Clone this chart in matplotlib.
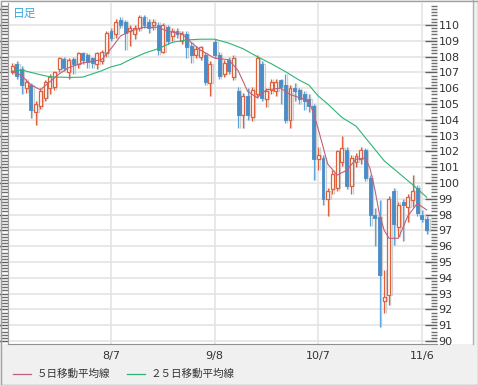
import numpy as np
import matplotlib.pyplot as plt
from matplotlib.patches import Rectangle
from matplotlib.lines import Line2D
from matplotlib.ticker import MultipleLocator

plt.rcParams['font.family'] = ['DejaVu Sans']

# daily candles (USD/JPY style)
opens = [107.0, 107.5, 107.2, 106.0, 106.2, 104.5, 104.9, 105.4, 106.0, 106.1,
         107.2, 107.85, 107.0, 107.85, 107.5, 108.2, 108.1, 107.9, 107.5, 107.7,
         108.2, 109.6, 109.4, 110.3, 110.2, 109.6, 109.4, 109.8, 110.5, 110.2,
         110.0, 110.0, 108.3, 109.9, 109.3, 109.6, 109.0, 109.4, 108.7, 108.1,
         108.0, 108.1, 106.3, 108.9, 108.1, 106.9, 107.8, 106.7, 105.8, 104.3,
         105.5, 104.2, 105.6, 107.5, 105.3, 105.9, 105.8, 106.5, 106.2, 104.0,
         106.0, 105.9, 105.6, 105.3, 104.9, 101.5, 101.6, 99.0, 99.6, 99.7,
         101.3, 102.1, 99.8, 101.3, 101.5, 102.1, 100.3, 98.0, 97.85, 92.5,
         92.9, 99.5, 97.2, 98.8, 98.5, 98.9, 99.7, 98.0, 97.7]
highs = [107.6, 107.7, 107.4, 106.6, 106.3, 105.2, 106.0, 106.5, 106.9, 107.1,
         108.0, 108.0, 107.9, 108.0, 108.3, 108.3, 108.2, 108.0, 108.3, 108.4,
         109.6, 109.8, 110.4, 110.5, 110.3, 110.0, 110.0, 110.65, 110.6, 110.4,
         110.4, 110.2, 110.1, 110.0, 109.8, 109.8, 109.6, 109.6, 108.9, 108.7,
         108.7, 108.3, 107.7, 109.1, 108.3, 107.8, 108.0, 108.1, 106.1, 105.7,
         106.0, 106.1, 108.1, 107.7, 106.0, 106.6, 106.6, 106.6, 106.9, 106.2,
         106.3, 106.0, 105.8, 105.6, 105.0, 102.3, 101.8, 99.7, 100.8, 102.1,
         103.0, 102.3, 101.8, 101.9, 102.3, 102.2, 100.5, 98.4, 98.9, 94.5,
         99.2, 99.7, 98.8, 99.0, 99.3, 100.5, 99.9, 98.3, 97.9]
lows = [106.9, 106.6, 105.6, 105.7, 104.1, 103.7, 104.7, 105.2, 105.6, 105.9,
        107.0, 107.1, 106.6, 106.9, 107.3, 107.5, 107.3, 107.3, 107.2, 107.5,
        108.0, 109.0, 109.2, 109.8, 108.4, 108.7, 109.1, 109.6, 109.8, 109.5,
        109.7, 108.1, 108.2, 108.8, 109.0, 109.2, 108.8, 107.9, 107.6, 107.9,
        107.8, 106.2, 105.5, 107.9, 106.6, 106.7, 106.9, 106.5, 103.5, 103.5,
        104.0, 103.9, 105.4, 105.2, 104.8, 105.6, 105.5, 105.0, 103.8, 103.5,
        105.2, 105.0, 104.6, 104.5, 100.2, 100.8, 98.6, 97.9, 99.3, 99.5,
        101.1, 99.6, 99.3, 101.0, 101.2, 100.1, 97.3, 96.0, 90.9, 91.8,
        92.3, 96.1, 96.6, 96.3, 97.5, 98.5, 97.9, 97.5, 96.8]
closes = [107.4, 106.8, 106.2, 106.4, 104.6, 105.0, 105.8, 106.4, 106.7, 107.0,
          107.9, 107.3, 107.8, 107.5, 108.2, 107.8, 107.65, 107.6, 108.2, 108.3,
          109.5, 109.2, 110.2, 110.0, 109.5, 109.8, 109.8, 110.5, 110.0, 109.8,
          110.2, 108.4, 110.0, 109.0, 109.6, 109.4, 109.4, 108.6, 108.1, 108.5,
          108.6, 106.4, 107.5, 108.1, 106.8, 107.6, 107.1, 107.9, 104.3, 105.5,
          104.3, 105.9, 107.9, 105.4, 105.8, 106.4, 106.4, 106.1, 104.0, 106.0,
          105.8, 105.3, 105.2, 104.9, 101.5, 101.8, 99.0, 99.5, 100.6, 102.0,
          102.2, 99.8, 101.6, 101.7, 102.1, 100.3, 98.0, 97.8, 94.2, 92.8,
          99.0, 97.4, 98.6, 98.6, 99.1, 99.5, 98.1, 97.7, 97.0]

# moving averages (bar index, value)
ma5_idx = [0, 2, 4, 6, 8, 10, 12, 15, 19, 21, 23, 25, 28, 31, 33, 36, 38, 40, 43, 46,
           48, 50, 52, 54, 57, 59, 61, 63, 64, 65, 66, 67, 69, 71, 73, 75, 76, 77, 78,
           79, 80, 82, 84, 86, 88]
ma5_val = [107.1, 106.8, 106.2, 105.9, 106.4, 106.9, 107.3, 107.6, 107.8, 108.5,
           109.3, 109.6, 109.85, 109.85, 109.6, 109.45, 108.9, 108.4, 107.9, 107.8,
           107.1, 105.8, 105.4, 105.9, 106.0, 105.6, 105.4, 105.2, 104.4, 103.4,
           102.3, 101.2, 100.5, 100.8, 101.5, 101.6, 100.9, 99.6, 98.0,
           97.0, 96.5, 96.5, 97.9, 98.7, 98.3]
ma25_idx = [0, 2, 4, 6, 8, 12, 15, 17, 19, 21, 23, 25, 28, 31, 34, 37, 40, 43, 46, 49,
            52, 55, 58, 61, 63, 65, 67, 70, 73, 76, 79, 82, 85, 88]
ma25_val = [107.05, 107.15, 107.0, 106.85, 106.72, 106.68, 106.7, 106.9, 107.1, 107.35,
            107.5, 107.8, 108.2, 108.5, 108.9, 109.05, 109.1, 109.1, 108.85, 108.5,
            108.0, 107.55, 107.05, 106.5, 106.2, 105.5, 105.0, 104.15, 103.6, 102.5,
            101.4, 100.65, 99.9, 99.1]

date_idx = [21, 43, 65, 87]
date_lbl = ['8/7', '9/8', '10/7', '11/6']
price_ticks = list(range(90, 111))

W, H = 478, 385
fig = plt.figure(figsize=(W / 100, H / 100), dpi=100, facecolor='#f0f0f0')


def box(x0, y0, x1, y1):
    # pixel box (top-left origin) -> figure fraction rect
    return [x0 / W, 1 - y1 / H, (x1 - x0) / W, (y1 - y0) / H]


# white panel behind the chart and the price labels
fig.patches.append(Rectangle((1 / W, 1 - 344 / H), 472 / W, 343 / H,
                             transform=fig.transFigure, facecolor='white',
                             edgecolor='none', zorder=-5))

ax = fig.add_axes(box(8, 3, 437, 344))
ax.set_zorder(2)
ax.set_facecolor('white')

n = len(opens)
x = np.arange(n)
o = np.array(opens); c = np.array(closes)
hi = np.array(highs); lo = np.array(lows)
up = c >= o
up_col = '#e0603c'
dn_col = '#4a8cc8'
wick_dn = '#5aa6dc'
shadow = '#cfcfcf'
bw = 0.62

body_lo = np.minimum(o, c)
body_h = np.maximum(np.abs(c - o), 0.06)

# light drop shadow to the right of each candle
ax.vlines(x + 0.3, lo, hi, color=shadow, lw=1.0, zorder=2)
ax.bar(x + 0.3, body_h, bw, bottom=body_lo, color='none', edgecolor=shadow, lw=0.9, zorder=2)

ax.vlines(x[up], lo[up], hi[up], color=up_col, lw=0.9, zorder=3)
ax.vlines(x[~up], lo[~up], hi[~up], color=wick_dn, lw=0.9, zorder=3)
ax.bar(x[up], body_h[up], bw, bottom=body_lo[up], color='white', edgecolor=up_col, lw=0.9, zorder=4)
ax.bar(x[~up], body_h[~up], bw, bottom=body_lo[~up], color=dn_col, edgecolor=dn_col, lw=0.6, zorder=4)

ax.plot(ma25_idx, ma25_val, color='#2cb476', lw=0.8, zorder=5)
ax.plot(ma5_idx, ma5_val, color='#c0607c', lw=0.8, zorder=5)

ax.set_xlim(-0.87, 90.2)
ax.set_ylim(89.81, 111.39)

ax.set_xticks(date_idx)
ax.set_xticklabels(date_lbl)
ax.tick_params(axis='x', length=0, pad=5, labelsize=8, labelcolor='#333333')

ax.yaxis.tick_right()
ax.set_yticks(price_ticks)
ax.set_yticklabels([str(t) for t in price_ticks])
ax.yaxis.set_minor_locator(MultipleLocator(0.2))
ax.tick_params(axis='y', which='major', direction='in', length=9, width=1,
               color='#606060', pad=1, labelsize=8, labelcolor='#333333')
ax.tick_params(axis='y', which='minor', direction='in', length=4, width=1, color='#707070')

# left-hand tick comb
lax = ax.secondary_yaxis('left')
lax.set_yticks(list(range(90, 112)))
lax.set_yticklabels([])
lax.yaxis.set_minor_locator(MultipleLocator(0.2))
lax.tick_params(which='major', direction='out', length=8, width=1, color='#606060')
lax.tick_params(which='minor', direction='out', length=5, width=1, color='#707070')
lax.spines['left'].set_color('#a0a0a0')

ax.grid(True, which='major', color='#e4e4e4', lw=1.2, zorder=0)
ax.set_axisbelow(True)
for s in ['top', 'right']:
    ax.spines[s].set_visible(False)
ax.spines['left'].set_color('#a0a0a0')
ax.spines['bottom'].set_color('#909090')

ax.text(5 / 429, 1 - 10 / 341, '日足', transform=ax.transAxes, fontsize=8.5,
        color='#3aa8e0', va='center', ha='left',
        family=['Noto Sans CJK JP', 'DejaVu Sans'])

# legend row
ly = 1 - 374 / H
fig.add_artist(Line2D([13 / W, 31 / W], [ly, ly], color='#c0607c', lw=0.9))
fig.text(37 / W, ly, '５日移動平均線', fontsize=7.6, color='#333333', va='center',
         family=['Noto Sans CJK JP', 'DejaVu Sans'])
fig.add_artist(Line2D([127 / W, 145 / W], [ly, ly], color='#2cb476', lw=0.9))
fig.text(151 / W, ly, '２５日移動平均線', fontsize=7.6, color='#333333', va='center',
         family=['Noto Sans CJK JP', 'DejaVu Sans'])

# outer frame
fig.patches.append(Rectangle((0.5 / W, 0.5 / H), (W - 1) / W, (H - 1) / H,
                             transform=fig.transFigure, facecolor='none',
                             edgecolor='#a0a0a0', lw=1, zorder=10))
fig.add_artist(Line2D([473 / W, 473 / W], [1 - 344 / H, 1], color='#b0b0b0', lw=1))

fig.savefig('out.png', dpi=100, facecolor=fig.get_facecolor())
